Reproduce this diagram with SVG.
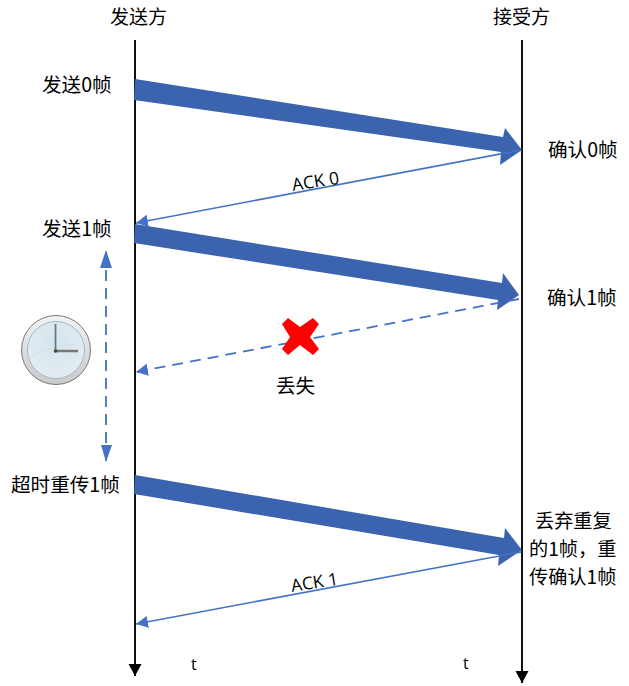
<svg xmlns="http://www.w3.org/2000/svg" width="629" height="686" viewBox="0 0 629 686">
<defs>
<style>
text{font-family:"Noto Sans CJK SC","Noto Sans",sans-serif;font-size:19.6px;fill:#000}
.h{font-size:19px}
.m{font-size:19.2px}
.l{font-family:"Open Sans","Liberation Sans",sans-serif;font-size:17.5px}
.t{font-family:"Open Sans","Liberation Sans",sans-serif;font-size:16px}
.thick{fill:#3b63ae}
.thin{fill:none;stroke:#4472c4;stroke-width:1.6}
.dash{fill:none;stroke:#4472c4;stroke-width:1.8;stroke-dasharray:11 7}
.axis{stroke:#111;stroke-width:2;fill:none}
</style>
<marker id="bh" markerUnits="userSpaceOnUse" markerWidth="14" markerHeight="14" refX="12" refY="6" orient="auto"><path d="M0 0L12 6L0 12Z" fill="#4472c4"/></marker>
<marker id="kh" markerUnits="userSpaceOnUse" markerWidth="14" markerHeight="14" refX="12" refY="6.5" orient="auto"><path d="M0 0L12 6.5L0 13Z" fill="#000"/></marker>
<radialGradient id="face" cx="0.5" cy="0.35" r="0.7"><stop offset="0" stop-color="#d3e5ee"/><stop offset="1" stop-color="#e6edf1"/></radialGradient>
<linearGradient id="rim" x1="0" y1="0" x2="0" y2="1"><stop offset="0" stop-color="#f2f2f2"/><stop offset="1" stop-color="#c9c9cb"/></linearGradient>
</defs>
<g id="connectors">
<path class="axis" d="M135 40V676" marker-end="url(#kh)"/>
<path class="axis" d="M522 40V683" marker-end="url(#kh)"/>
<polygon class="thick" points="135,79 503,137 505,128 522,150 500,165 501,152 134,100"/>
<polygon class="thick" points="135,224 502,283 503,273 519,295 497,310 498,300 134,243"/>
<polygon class="thick" points="135,475 504,538 505,528 522,550 498,566 499,555 134,494"/>
<path class="thin" d="M521 150L136 223" marker-end="url(#bh)"/>
<path class="dash" d="M519 299L136 372" marker-end="url(#bh)"/>
<path class="thin" d="M521 552L136 624" marker-end="url(#bh)"/>
<path class="dash" d="M106 252V462"/>
<path d="M106 250L100 268H112Z" fill="#4472c4"/>
<path d="M106 462L101 445H112Z" fill="#4472c4"/>
</g>
<g id="sender"><text class="h" x="110" y="24">发送方</text></g>
<g id="receiver"><text class="h" x="493" y="24">接受方</text></g>
<g id="send0"><text x="42" y="92">发送0帧</text></g>
<g id="send1"><text x="42" y="236">发送1帧</text></g>
<g id="resend"><text x="11" y="492">超时重传1帧</text></g>
<g id="ack0c"><text x="548" y="157">确认0帧</text></g>
<g id="ack1c"><text x="547" y="305">确认1帧</text></g>
<g id="dropdup">
<text class="m" x="535" y="528">丢弃重复</text>
<text class="m" x="529" y="556">的1帧，重</text>
<text class="m" x="529" y="584">传确认1帧</text>
</g>
<g id="ack0"><text class="l" transform="translate(293,191) rotate(-9)">ACK 0</text></g>
<g id="ack1"><text class="l" transform="translate(292,592) rotate(-9)">ACK 1</text></g>
<g id="lost"><text x="276" y="393">丢失</text></g>
<g id="t1"><text class="t" x="191" y="670">t</text></g>
<g id="t2"><text class="t" x="463" y="669">t</text></g>
<g id="cross"><path d="M288 318L300 327L313 318L319 324L310 337L319 349L313 355L300 345L288 355L282 349L290 337L282 324Z" fill="#f00"/></g>
<g id="clock">
<circle cx="56" cy="350" r="34.5" fill="url(#rim)" stroke="#777" stroke-width="1"/>
<circle cx="56" cy="350" r="28.5" fill="url(#face)" stroke="#9dbccb" stroke-width="1"/>
<path d="M30 358Q42 348 74 344" fill="none" stroke="#b5ccd8" stroke-width="0.7" stroke-dasharray="1 1"/>
<path d="M55.500 324V351" stroke="#777" stroke-width="1.800"/>
<path d="M55 351H78" stroke="#777" stroke-width="2.500"/>
<circle cx="55.500" cy="351" r="1.800" fill="#444"/>
</g>
</svg>
